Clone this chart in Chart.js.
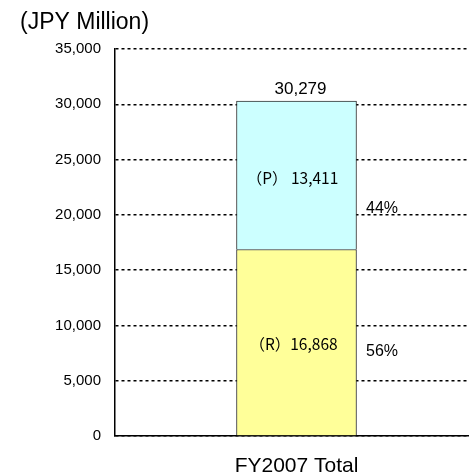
<!DOCTYPE html>
<html>
<head>
<meta charset="utf-8">
<script src="https://cdn.jsdelivr.net/npm/chart.js@4"></script>
<style>
  html, body { margin: 0; padding: 0; background: #fff; overflow: hidden; }
  #wrap { width: 469px; height: 476px; overflow: hidden; }
  canvas { display: block; }
</style>
</head>
<body>
<div id="wrap"><canvas id="c" width="478" height="476"></canvas></div>
<script>
const categories = ['FY2007 Total'];
const seriesLabels = ['(R)', '(P)'];
const rValues = [16868];
const pValues = [13411];
const yMin = 0, yMax = 35000, yStep = 5000;
const unitTitle = '(JPY Million)';

const fmt = v => Number(v).toLocaleString('en-US');

const labelsPlugin = {
  id: 'labelsPlugin',
  afterDatasetsDraw(chart) {
    const ctx = chart.ctx;
    const metaR = chart.getDatasetMeta(0);
    const metaP = chart.getDatasetMeta(1);
    categories.forEach((c, i) => {
      const r = metaR.data[i], p = metaP.data[i];
      const total = rValues[i] + pValues[i];
      const half = r.width / 2;
      ctx.save();
      ctx.fillStyle = '#000';
      // total above the bar
      ctx.font = '17px "Liberation Sans", Arial, sans-serif';
      ctx.textAlign = 'center';
      ctx.textBaseline = 'bottom';
      ctx.fillText(fmt(total), p.x + 4, p.y - 3);
      // segment labels
      ctx.font = '15.5px "Noto Sans CJK JP", sans-serif';
      ctx.textBaseline = 'middle';
      ctx.fillText('（R）' + fmt(rValues[i]), r.x - 3, (r.y + r.base) / 2 + 2);
      ctx.fillText('（P） ' + fmt(pValues[i]), p.x - 4, (p.y + p.base) / 2 + 3);
      // percentages
      ctx.font = '16px "Liberation Sans", Arial, sans-serif';
      ctx.textAlign = 'left';
      const pctR = Math.round(rValues[i] / total * 100) + '%';
      const pctP = Math.round(pValues[i] / total * 100) + '%';
      ctx.fillText(pctP, p.x + half + 9.5, (p.y + p.base) / 2 + 33);
      ctx.fillText(pctR, r.x + half + 9.5, (r.y + r.base) / 2 + 9);
      ctx.restore();
    });
    // unit title
    ctx.save();
    ctx.fillStyle = '#000';
    ctx.font = '23px "Liberation Sans", Arial, sans-serif';
    ctx.textAlign = 'left';
    ctx.textBaseline = 'middle';
    ctx.fillText(unitTitle, 20, 23);
    ctx.restore();
  }
};

new Chart(document.getElementById('c'), {
  type: 'bar',
  data: {
    labels: categories,
    datasets: [
      { label: seriesLabels[0], data: rValues, backgroundColor: '#FFFF99', borderColor: '#333', borderWidth: 1, barThickness: 120 },
      { label: seriesLabels[1], data: pValues, backgroundColor: '#CCFFFF', borderColor: '#333', borderWidth: 1, barThickness: 120 }
    ]
  },
  options: {
    responsive: false,
    animation: false,
    layout: { padding: { top: 49, left: 0, right: 0, bottom: 0 } },
    plugins: { legend: { display: false }, tooltip: { enabled: false }, title: { display: false } },
    scales: {
      x: {
        stacked: true,
        grid: { display: false, drawTicks: false },
        border: { display: true, color: '#000', width: 1.5 },
        ticks: { color: '#000', font: { family: '"Liberation Sans", Arial, sans-serif', size: 21 }, padding: 18 },
        afterFit(s) { s.height = 40; }
      },
      y: {
        stacked: true,
        min: yMin, max: yMax,
        grid: { color: '#000', lineWidth: 1.5, drawTicks: false },
        border: { display: true, color: '#000', width: 1.5, dash: [3, 3] },
        ticks: { stepSize: yStep, color: '#000', padding: 14, font: { family: '"Liberation Sans", Arial, sans-serif', size: 15 }, callback: v => fmt(v) },
        afterFit(s) { s.width = 115; }
      }
    }
  },
  plugins: [labelsPlugin]
});
</script>
</body>
</html>
